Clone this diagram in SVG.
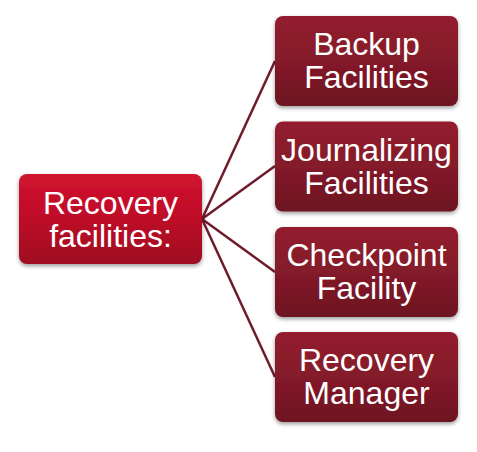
<svg xmlns="http://www.w3.org/2000/svg" width="477" height="452" viewBox="0 0 477 452">
<defs>
<linearGradient id="gRoot" x1="0" y1="0" x2="0" y2="1">
<stop offset="0" stop-color="#d0142f"/>
<stop offset="0.5" stop-color="#be0c28"/>
<stop offset="1" stop-color="#9e0a20"/>
</linearGradient>
<linearGradient id="gChild" x1="0" y1="0" x2="0" y2="1">
<stop offset="0" stop-color="#931c2e"/>
<stop offset="0.5" stop-color="#841a2a"/>
<stop offset="1" stop-color="#6c1320"/>
</linearGradient>
<filter id="sh" x="-10%" y="-10%" width="120%" height="130%">
<feGaussianBlur in="SourceAlpha" stdDeviation="2"/>
<feOffset dy="2"/>
<feComponentTransfer><feFuncA type="linear" slope="0.4"/></feComponentTransfer>
<feMerge><feMergeNode/><feMergeNode in="SourceGraphic"/></feMerge>
</filter>
</defs>
<style>
.root{fill:url(#gRoot);filter:url(#sh);}
.child{fill:url(#gChild);filter:url(#sh);}
.t{font-family:"Liberation Sans",Arial,sans-serif;font-size:32px;fill:#ffffff;text-anchor:middle;}
.c{stroke:#6e1c2b;stroke-width:2.5;fill:none;}
</style>
<g id="connectors">
<line class="c" x1="202" y1="219" x2="275" y2="61"/>
<line class="c" x1="202" y1="219" x2="275" y2="166"/>
<line class="c" x1="202" y1="219" x2="275" y2="272"/>
<line class="c" x1="202" y1="219" x2="275" y2="377"/>
</g>
<g id="root">
<rect class="root" x="19" y="174" width="183" height="90" rx="8"/>
<text class="t" x="110.5" y="214">Recovery</text>
<text class="t" x="110.5" y="247">facilities:</text>
</g>
<g id="backup">
<rect class="child" x="275" y="16" width="183" height="90" rx="8"/>
<text class="t" x="366.5" y="55">Backup</text>
<text class="t" x="366.5" y="88">Facilities</text>
</g>
<g id="journalizing">
<rect class="child" x="275" y="121.5" width="183" height="90" rx="8"/>
<text class="t" x="366.5" y="160.5">Journalizing</text>
<text class="t" x="366.5" y="193.5">Facilities</text>
</g>
<g id="checkpoint">
<rect class="child" x="275" y="227" width="183" height="90" rx="8"/>
<text class="t" x="366.5" y="266">Checkpoint</text>
<text class="t" x="366.5" y="299">Facility</text>
</g>
<g id="manager">
<rect class="child" x="275" y="332" width="183" height="90" rx="8"/>
<text class="t" x="366.5" y="371">Recovery</text>
<text class="t" x="366.5" y="404">Manager</text>
</g>
</svg>
